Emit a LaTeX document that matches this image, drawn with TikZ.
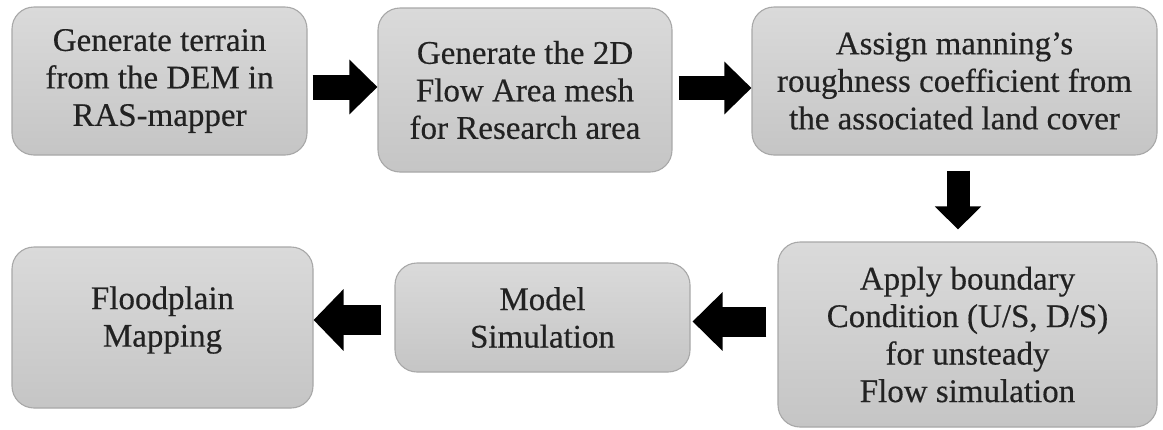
\documentclass[tikz,border=0pt]{standalone}
\usepackage{fontspec}
\setmainfont{Liberation Serif}
\newfontfamily\boxfont{Liberation Serif}[FakeBold=0.4, Ligatures=TeX]
\usetikzlibrary{arrows.meta,calc}
\definecolor{boxtop}{HTML}{DADADA}
\definecolor{boxbot}{HTML}{C5C5C5}
\definecolor{boxline}{HTML}{A8A8A8}
\definecolor{txt}{HTML}{222222}
\tikzset{
  boxtext/.style={align=center, text=txt,
    font=\boxfont\fontsize{33}{37.5}\selectfont, inner sep=0pt},
  stepbox/.style={boxtext, draw=boxline, line width=1.1pt, rounded corners=22pt,
    top color=boxtop, bottom color=boxbot},
  blockarrow/.style args={#1/#2/#3}{draw=black, line width=#1,
    -{Triangle[length=#3,width=#2]}}
}
\begin{document}
\begin{tikzpicture}[x=1pt,y=1pt]
\useasboundingbox (0,0) rectangle (1163,-429);
\fill[white] (0,0) rectangle (1163,-429);
\node[stepbox, minimum width=295pt, minimum height=148pt] (b1) at (159.5,-81)
  {Generate terrain\\from the DEM in\\RAS-mapper};
\node[stepbox, minimum width=294pt, minimum height=164pt] (b2) at (525,-90)
  {Generate the 2D\\Flow Area mesh\\for Research area};
\node[stepbox, minimum width=405pt, minimum height=148pt] (b3) at (954.5,-81)
  {Assign manning’s\\roughness coefficient from\\the associated land cover};
\node[stepbox, minimum width=379pt, minimum height=185pt] (b4) at (967.5,-334.5)
  {Apply boundary\\Condition (U/S, D/S)\\for unsteady\\Flow simulation};
\node[stepbox, minimum width=295pt, minimum height=109pt] (b5) at (542.5,-317.5)
  {Model\\Simulation};
\node[stepbox, minimum width=301pt, minimum height=161pt] (b6) at (162.5,-327.5)
  {};
\node[boxtext] (t6) at (162.5,-320)
  {Floodplain\\Mapping};
\draw[blockarrow={25pt/53pt/28pt}, shorten <=5pt] (b1.east |- 0,-87) -- (b2.west |- 0,-87);
\draw[blockarrow={24pt/51pt/27pt}, shorten <=6pt] (b2.east |- 0,-88) -- (b3.west |- 0,-88);
\draw[blockarrow={23pt/45pt/23pt}, shorten <=15pt, shorten >=12pt] (b3.south -| 958,0) -- (b4.north -| 958,0);
\draw[blockarrow={30pt/57pt/30pt}, shorten <=11pt, shorten >=2pt] (b4.west |- 0,-321.5) -- (b5.east |- 0,-321.5);
\draw[blockarrow={30pt/60pt/30pt}, shorten <=13pt] (b5.west |- 0,-320) -- (b6.east |- 0,-320);
\end{tikzpicture}
\end{document}
